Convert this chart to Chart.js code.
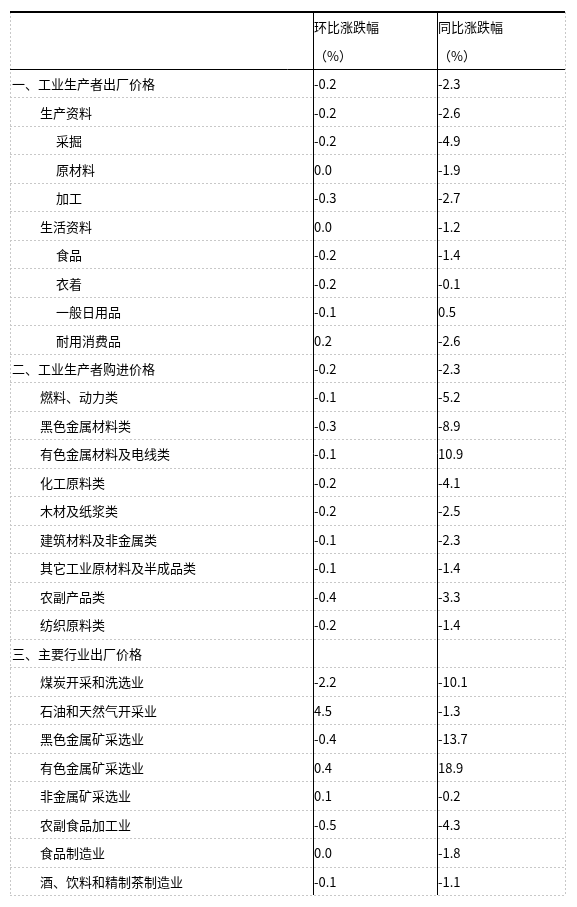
<!DOCTYPE html>
<html>
<head>
<meta charset="utf-8">
<script src="https://cdn.jsdelivr.net/npm/chart.js@4/dist/chart.umd.min.js"></script>
<style>
  html, body { margin: 0; padding: 0; background: #fff; }
  #wrap { width: 577px; height: 907px; }
</style>
</head>
<body>
<div id="wrap"><canvas id="c"></canvas></div>
<script>
const headers = ['环比涨跌幅', '同比涨跌幅']
const headerUnit = '（%）'
// column edges in table units
const columnEdges = [0, 303, 427, 555]

const categories = [
  '一、工业生产者出厂价格', '生产资料', '采掘', '原材料', '加工',
  '生活资料', '食品', '衣着', '一般日用品', '耐用消费品',
  '二、工业生产者购进价格', '燃料、动力类', '黑色金属材料类', '有色金属材料及电线类',
  '化工原料类', '木材及纸浆类', '建筑材料及非金属类', '其它工业原材料及半成品类',
  '农副产品类', '纺织原料类',
  '三、主要行业出厂价格', '煤炭开采和洗选业', '石油和天然气开采业', '黑色金属矿采选业',
  '有色金属矿采选业', '非金属矿采选业', '农副食品加工业', '食品制造业', '酒、饮料和精制茶制造业'
]
const indentLevel = [0, 1, 2, 2, 2, 1, 2, 2, 2, 2, 0, 1, 1, 1, 1, 1, 1, 1, 1, 1, 0, 1, 1, 1, 1, 1, 1, 1, 1]
const momChange = ['-0.2', '-0.2', '-0.2', '0.0', '-0.3', '0.0', '-0.2', '-0.2', '-0.1', '0.2',
  '-0.2', '-0.1', '-0.3', '-0.1', '-0.2', '-0.2', '-0.1', '-0.1', '-0.4', '-0.2',
  '', '-2.2', '4.5', '-0.4', '0.4', '0.1', '-0.5', '0.0', '-0.1']
const yoyChange = ['-2.3', '-2.6', '-4.9', '-1.9', '-2.7', '-1.2', '-1.4', '-0.1', '0.5', '-2.6',
  '-2.3', '-5.2', '-8.9', '10.9', '-4.1', '-2.5', '-2.3', '-1.4', '-3.3', '-1.4',
  '', '-10.1', '-1.3', '-13.7', '18.9', '-0.2', '-4.3', '-1.8', '-1.1']

const FONT = '13px "Noto Sans CJK SC", "Liberation Sans", sans-serif'
const indentPx = [2, 30, 46]

// draws the table onto the chart area using the chart's own scales
const tablePlugin = {
  id: 'table',
  afterDraw(chart) {
    const ctx = chart.ctx
    const x = chart.scales.x
    const y = chart.scales.y
    const n = categories.length
    const colX = columnEdges.map(v => x.getPixelForValue(v))
    const half = (y.getPixelForValue(1) - y.getPixelForValue(0)) / 2
    const top = y.getPixelForValue(-2) - half
    const headBottom = y.getPixelForValue(0) - half
    const bottom = y.getPixelForValue(n - 1) + half

    ctx.save()
    // dashed grid
    ctx.strokeStyle = '#c8c8c8'
    ctx.lineWidth = 1
    ctx.setLineDash([2, 2])
    for (let i = 1; i < n; i++) {
      const yy = Math.round(y.getPixelForValue(i) - half) + 0.5
      ctx.beginPath(); ctx.moveTo(colX[0], yy); ctx.lineTo(colX[3], yy); ctx.stroke()
    }
    const by = Math.round(bottom) + 0.5
    ctx.beginPath(); ctx.moveTo(colX[0], by); ctx.lineTo(colX[3], by); ctx.stroke()
    ;[colX[0], colX[3]].forEach(cx => {
      const xx = Math.round(cx) + 0.5
      ctx.beginPath(); ctx.moveTo(xx, top); ctx.lineTo(xx, bottom); ctx.stroke()
    })
    ctx.setLineDash([])

    // solid black rules
    ctx.strokeStyle = '#000'
    ctx.lineWidth = 2
    ctx.beginPath(); ctx.moveTo(colX[0], Math.round(top)); ctx.lineTo(colX[3], Math.round(top)); ctx.stroke()
    ctx.lineWidth = 1
    const hb = Math.round(headBottom) + 0.5
    ctx.beginPath(); ctx.moveTo(colX[0], hb); ctx.lineTo(colX[3], hb); ctx.stroke()
    ;[colX[1], colX[2]].forEach(cx => {
      const xx = Math.round(cx) + 0.5
      ctx.beginPath(); ctx.moveTo(xx, top); ctx.lineTo(xx, bottom); ctx.stroke()
    })

    // text
    ctx.fillStyle = '#000'
    ctx.font = FONT
    ctx.textBaseline = 'middle'
    ctx.textAlign = 'left'
    headers.forEach((h, j) => {
      ctx.fillText(h, colX[j + 1] + 1, y.getPixelForValue(-2) + 1)
      ctx.fillText(headerUnit, colX[j + 1] + 1, y.getPixelForValue(-1) + 1)
    })
    categories.forEach((name, i) => {
      const cy = y.getPixelForValue(i) + 1
      ctx.fillText(name, colX[0] + indentPx[indentLevel[i]], cy)
      ctx.fillText(momChange[i], colX[1] + 1, cy)
      ctx.fillText(yoyChange[i], colX[2] + 1, cy)
    })
    ctx.restore()
  }
}

new Chart(document.getElementById('c'), {
  type: 'scatter',
  data: { datasets: [{ data: [], pointRadius: 0 }] },
  options: {
    responsive: true,
    maintainAspectRatio: false,
    animation: false,
    layout: { padding: { left: 10, right: 12, top: 12, bottom: 12 } },
    plugins: { legend: { display: false }, tooltip: { enabled: false } },
    scales: {
      x: { type: 'linear', min: 0, max: 555, display: false },
      y: {
        type: 'linear', display: false, reverse: true,
        min: -2.5, max: categories.length - 0.5
      }
    }
  },
  plugins: [tablePlugin]
})
</script>
</body>
</html>
